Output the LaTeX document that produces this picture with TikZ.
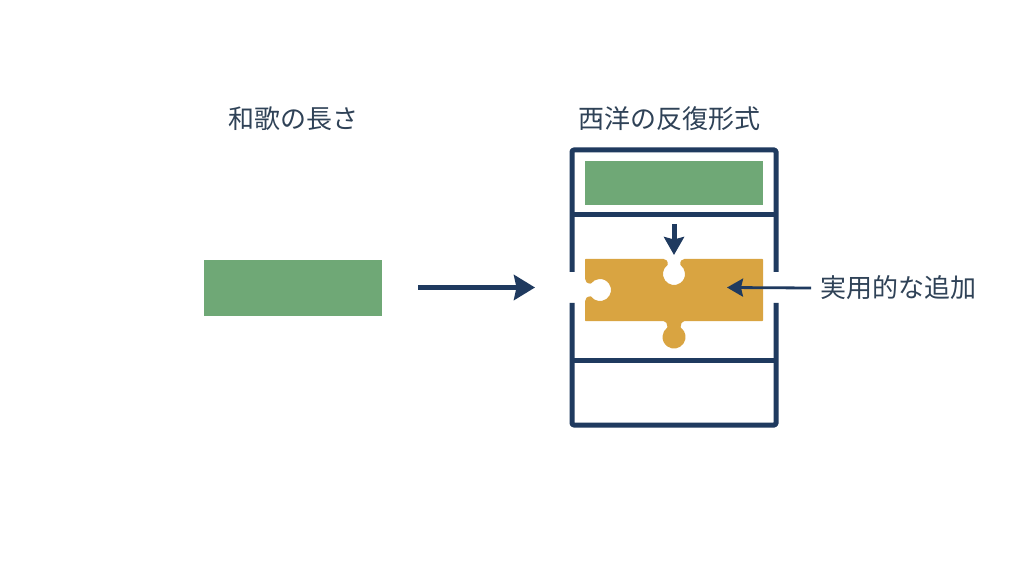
\documentclass[tikz,border=0pt]{standalone}
\usepackage{fontspec}
\setmainfont{Noto Sans CJK JP}
\usetikzlibrary{arrows.meta}
\definecolor{navy}{HTML}{1F3A5F}
\definecolor{inkc}{HTML}{2F4257}
\definecolor{leaf}{HTML}{6FA876}
\definecolor{gold}{HTML}{D9A441}
\tikzset{
  x=1pt,y=1pt,
  title/.style={text=inkc,font=\fontsize{26pt}{30pt}\selectfont,inner sep=0pt},
  bar/.style={fill=leaf,draw=none,minimum width=178pt,inner sep=0pt,outer sep=0pt},
  wall/.style={draw=navy,line width=5pt,line join=round,line cap=butt},
  bigarrow/.style={draw=navy,line width=5pt,-{Stealth[length=21pt,width=25pt,inset=2.5pt]}},
  downarrow/.style={draw=navy,line width=5pt,-{Stealth[length=18pt,width=20pt,inset=2.5pt]}},
  thinarrow/.style={draw=navy,line width=2.8pt,-{Stealth[length=16pt,width=18pt,inset=2pt]}}
}
\begin{document}
\begin{tikzpicture}
\useasboundingbox[fill=white] (0,0) rectangle (1024,576);
% titles
\node[title] (ltitle) at (293,457) {和歌の長さ};
\node[title] (rtitle) at (669.5,457) {西洋の反復形式};
% green bars
\node[bar,minimum height=56pt] (lbar) at (293,288) {};
\node[bar,minimum height=44pt] (tbar) at (674,393) {};
% frame
\draw[wall,rounded corners=1.5pt] (572,304) -- (572,426) -- (776,426) -- (776,304);
\draw[wall,rounded corners=1.5pt] (572,273) -- (572,151) -- (776,151) -- (776,273);
\draw[wall] (572,361) -- (776,361);
\draw[wall] (572,216) -- (776,216);
% puzzle piece
\fill[gold,rounded corners=0.6pt] (585,317) -- (663,317)
  .. controls (666,317) and (668,315) .. (667.7,311)
  arc[start angle=125,end angle=415,radius=11pt]
  .. controls (680,315) and (682,317) .. (685,317)
  -- (763,317) -- (763,255) -- (685,255)
  .. controls (682,255) and (680.5,252) .. (680.6,248.4)
  arc[start angle=55,end angle=-235,radius=11.5pt]
  .. controls (667.5,252) and (666,255) .. (663,255)
  -- (585,255) -- (585,274)
  .. controls (585,277.5) and (587,279.5) .. (591,279.7)
  arc[start angle=-145,end angle=145,radius=11pt]
  .. controls (587,292.5) and (585,294.5) .. (585,298)
  -- cycle;
% label and arrows
\node[title,anchor=west] (addlabel) at (820,288) {実用的な追加};
\coordinate (mainstart) at (418,288.5);
\coordinate (mainend) at (535,288.5);
\coordinate (downstart) at (674,352);
\coordinate (downend) at (674,321);
\coordinate (addend) at (727,288.5);
\draw[bigarrow] (mainstart) -- (mainend);
\draw[downarrow] (downstart) -- (downend);
\draw[thinarrow] (addlabel.west -| 811,288.5) -- (addend);
\end{tikzpicture}
\end{document}
